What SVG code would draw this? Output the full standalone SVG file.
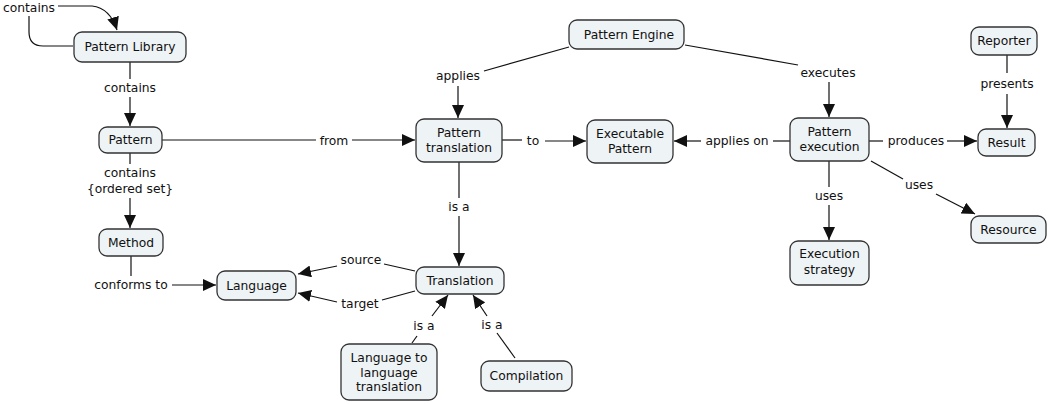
<svg xmlns="http://www.w3.org/2000/svg" width="1049" height="404" viewBox="0 0 1049 404">
<style>
.n rect{fill:#EEF3F5;stroke:#333;stroke-width:1.3}
text{font-family:"DejaVu Sans",Verdana,sans-serif;font-size:12.3px;fill:#111;text-anchor:middle;dominant-baseline:central}
.c path{fill:none;stroke:#111;stroke-width:1.2}
.c path.a{marker-end:url(#ah)}
</style>
<defs>
<marker id="ah" markerUnits="userSpaceOnUse" markerWidth="14" markerHeight="12" refX="13" refY="6" orient="auto">
<path d="M0,0 L13,6 L0,12 Z" fill="#111"/>
</marker>
</defs>
<rect width="1049" height="404" fill="#fff"/>
<g class="c" id="connectors">
<path d="M29,16 L29,32 Q29,46 43,46 L73,46"/>
<path class="a" d="M58,6 L92,6 Q110,8 117,30"/>
<text x="29" y="8">contains</text>
<path d="M130,62 L130,79"/>
<path class="a" d="M130,97 L130,126"/>
<text x="130" y="88">contains</text>
<path d="M162,140 L316,140"/>
<path class="a" d="M352,140 L415,140"/>
<text x="334" y="141">from</text>
<path d="M130,153 L130,164"/>
<path class="a" d="M130,198 L130,228"/>
<text x="130" y="173">contains</text>
<text x="130" y="189">{ordered set}</text>
<path d="M131,256 L131,276"/>
<path class="a" d="M172,285 L216,285"/>
<text x="131" y="285">conforms to</text>
<path d="M569,47 L484,71"/>
<path class="a" d="M458,86 L458,118"/>
<text x="458" y="76">applies</text>
<path d="M685,45 L798,65"/>
<path class="a" d="M829,82 L829,117"/>
<text x="828" y="73">executes</text>
<path d="M502,140 L522,140"/>
<path class="a" d="M545,141 L586,141"/>
<text x="533" y="141">to</text>
<path class="a" d="M701,141 L674,141"/>
<path d="M773,141 L790,141"/>
<text x="737" y="141">applies on</text>
<path d="M459,162 L459,198"/>
<path class="a" d="M459,216 L459,266"/>
<text x="459" y="207">is a</text>
<path d="M415,271 L384,264"/>
<path class="a" d="M337,266 L298,274"/>
<text x="361" y="260">source</text>
<path d="M415,291 L382,300"/>
<path class="a" d="M337,302 L298,293"/>
<text x="360" y="304">target</text>
<path d="M412,343 L417,336"/>
<path class="a" d="M432,316 L448,295"/>
<text x="424" y="326">is a</text>
<path d="M515,358 L497,333"/>
<path class="a" d="M487,316 L473,295"/>
<text x="492" y="325">is a</text>
<path d="M869,141 L883,141"/>
<path class="a" d="M947,141 L977,141"/>
<text x="916" y="141">produces</text>
<path d="M829,161 L829,187"/>
<path class="a" d="M829,205 L829,240"/>
<text x="829" y="196">uses</text>
<path d="M871,161 L903,179"/>
<path class="a" d="M936,194 L975,214"/>
<text x="919" y="185">uses</text>
<path d="M1007,55 L1007,73"/>
<path class="a" d="M1007,94 L1007,128"/>
<text x="1007" y="84">presents</text>
</g>
<g class="n" id="pattern-library"><rect x="74" y="32" width="112" height="30" rx="8"/><text x="130" y="47">Pattern Library</text></g>
<g class="n" id="pattern"><rect x="99" y="127" width="63" height="26" rx="8"/><text x="130.5" y="140">Pattern</text></g>
<g class="n" id="method"><rect x="99" y="229" width="64" height="27" rx="8"/><text x="131" y="242.5">Method</text></g>
<g class="n" id="language"><rect x="217" y="271" width="79" height="29" rx="8"/><text x="256.5" y="285.5">Language</text></g>
<g class="n" id="pattern-translation"><rect x="416" y="119" width="86" height="43" rx="8"/><text x="459" y="133">Pattern</text><text x="459" y="148">translation</text></g>
<g class="n" id="executable-pattern"><rect x="587" y="120" width="86" height="43" rx="8"/><text x="630" y="134">Executable</text><text x="630" y="149">Pattern</text></g>
<g class="n" id="translation"><rect x="416" y="267" width="88" height="27" rx="8"/><text x="460" y="280.5">Translation</text></g>
<g class="n" id="l2l-translation"><rect x="341" y="344" width="96" height="56" rx="8"/><text x="389" y="358">Language to</text><text x="389" y="373">language</text><text x="389" y="387">translation</text></g>
<g class="n" id="compilation"><rect x="481" y="361" width="91" height="30" rx="8"/><text x="526.5" y="376">Compilation</text></g>
<g class="n" id="pattern-engine"><rect x="569" y="20" width="115" height="29" rx="8"/><text x="629" y="34.5">Pattern Engine</text></g>
<g class="n" id="pattern-execution"><rect x="790" y="118" width="79" height="43" rx="8"/><text x="829.5" y="132">Pattern</text><text x="829.5" y="147">execution</text></g>
<g class="n" id="result"><rect x="978" y="129" width="57" height="27" rx="8"/><text x="1006.5" y="142.5">Result</text></g>
<g class="n" id="resource"><rect x="971" y="216" width="75" height="27" rx="8"/><text x="1008.5" y="229.5">Resource</text></g>
<g class="n" id="execution-strategy"><rect x="790" y="241" width="79" height="44" rx="8"/><text x="829.5" y="254">Execution</text><text x="829.5" y="270">strategy</text></g>
<g class="n" id="reporter"><rect x="971" y="27" width="66" height="28" rx="8"/><text x="1004" y="41">Reporter</text></g>
</svg>
